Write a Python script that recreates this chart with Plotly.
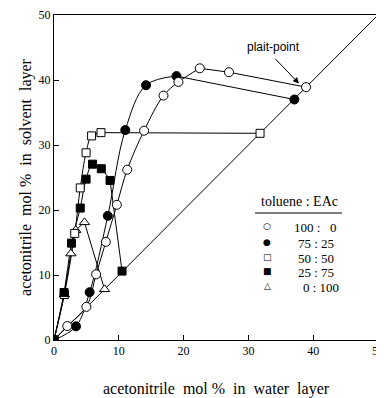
import plotly.graph_objects as go

# ---- data (acetonitrile mol %) ----
x_100_0 = [0, 2.05, 5.0, 6.5, 8.0, 9.7, 11.3, 13.9, 16.9, 19.2, 22.5, 27.0, 38.9]
y_100_0 = [0, 2.15, 5.1, 10.1, 15.1, 20.8, 26.2, 32.2, 37.6, 39.7, 41.8, 41.2, 38.9]

x_75_25 = [0, 3.4, 5.5, 8.3, 11.0, 14.2, 18.9, 37.1]
y_75_25 = [0, 2.1, 7.35, 19.1, 32.3, 39.2, 40.6, 37.0]

x_50_50 = [0, 1.6, 3.2, 4.05, 4.95, 5.8, 7.25, 31.8]
y_50_50 = [0, 7.0, 16.4, 23.4, 28.8, 31.4, 31.9, 31.8]

x_25_75 = [0, 1.55, 2.7, 4.05, 4.95, 5.95, 7.3, 8.65, 10.5]
y_25_75 = [0, 7.3, 14.9, 20.3, 24.75, 27.05, 26.35, 24.55, 10.6]

x_0_100 = [0, 1.6, 2.6, 3.35, 4.7, 7.8]
y_0_100 = [0, 7.0, 13.3, 16.9, 18.1, 7.8]

diag_x = [0, 50]
diag_y = [0, 50]

legend_title = "toluene : EAc"
legend_labels = ["100 :   0", "75 : 25", "50 : 50", "25 : 75", "0 : 100"]
legend_glyphs = ["○", "●", "□", "■", "△"]

x_title = "acetonitrile  mol %  in  water  layer"
y_title = "acetonitrile  mol %  in  solvent  layer"
tick_vals = [0, 10, 20, 30, 40, 50]
tick_text = ["0", "10", "20", "30", "40", "50"]

# series: (x, y, symbol, fill, size, index where linear tail starts, spline?)
series = {
    "100:0": (x_100_0, y_100_0, "circle", "white", 9, 10, True),
    "75:25": (x_75_25, y_75_25, "circle", "black", 9, 6, True),
    "50:50": (x_50_50, y_50_50, "square", "white", 8, 6, True),
    "25:75": (x_25_75, y_25_75, "square", "black", 8, 7, True),
    "0:100": (x_0_100, y_0_100, "triangle-up", "white", 9, 0, False),
}
marker_order = ["75:25", "100:0", "0:100", "50:50", "25:75"]

fig = go.Figure()

# diagonal
fig.add_trace(go.Scatter(x=diag_x, y=diag_y, mode="lines",
                         line=dict(color="black", width=1), hoverinfo="skip"))

# curve lines
for key, (xs, ys, sym, fill, sz, tail, spl) in series.items():
    if spl and tail > 0:
        fig.add_trace(go.Scatter(x=xs[:tail + 1], y=ys[:tail + 1], mode="lines",
                                 line=dict(color="black", width=1, shape="spline", smoothing=1)))
    fig.add_trace(go.Scatter(x=xs[tail:], y=ys[tail:], mode="lines",
                             line=dict(color="black", width=1)))

# markers on top
for key in marker_order:
    xs, ys, sym, fill, sz, tail, spl = series[key]
    fig.add_trace(go.Scatter(x=xs, y=ys, mode="markers", name=key,
                             marker=dict(symbol=sym, size=sz, color=fill,
                                         line=dict(color="black", width=1))))

serif = "Liberation Serif, Times New Roman, serif"
axis_common = dict(range=[0, 50], tickvals=tick_vals, ticktext=tick_text,
                   ticks="inside", ticklen=5, tickwidth=1, tickcolor="black",
                   showline=True, linecolor="black", linewidth=1, mirror=True,
                   showgrid=False, zeroline=False, automargin=False,
                   tickfont=dict(family=serif, size=12, color="black"))

# the page body has an 8px margin, so the figure starts at (8, 8) in the window
fig.update_layout(
    width=376, height=390,
    margin=dict(l=46, r=6, t=7, b=58),
    paper_bgcolor="white", plot_bgcolor="white",
    showlegend=False,
    xaxis=dict(**axis_common,
               title=dict(text=x_title, font=dict(family=serif, size=16, color="black"), standoff=27)),
    yaxis=dict(**axis_common,
               title=dict(text=y_title, font=dict(family=serif, size=16, color="black"), standoff=2)),
)

# window pixel -> paper helpers (plot area in window: x 54..378, y 15..340)
def px(xp):
    return (xp - 54) / 324.0

def py(yp):
    return (340 - yp) / 325.0

# plait-point label and arrow
fig.add_annotation(x=px(273), y=py(47), xref="paper", yref="paper", text="plait-point",
                   xanchor="center", yanchor="middle", showarrow=False,
                   font=dict(family="Liberation Sans, Arial, sans-serif", size=12, color="black"))
fig.add_annotation(x=px(299), y=py(83.5), xref="paper", yref="paper", text="",
                   showarrow=True, ax=-25, ay=-26, arrowhead=2, arrowsize=1.2, arrowwidth=1,
                   arrowcolor="black")

# custom legend
fig.add_annotation(x=px(299), y=py(201), xref="paper", yref="paper", text=legend_title,
                   xanchor="center", yanchor="middle", showarrow=False,
                   font=dict(family=serif, size=14, color="black"))
fig.add_shape(type="line", xref="paper", yref="paper", x0=px(255), x1=px(342), y0=py(213), y1=py(213),
              line=dict(color="black", width=1))
glyph_y = [225.5, 242, 256.5, 271, 285.5]
text_y = [227.5, 243.5, 258, 272.5, 287]
text_x = [293, 297, 297, 297, 302]
for g, lab, gy, ty, tx in zip(legend_glyphs, legend_labels, glyph_y, text_y, text_x):
    fig.add_annotation(x=px(267), y=py(gy), xref="paper", yref="paper", text=g, showarrow=False,
                       xanchor="center", yanchor="middle",
                       font=dict(family="DejaVu Sans", size=9, color="black"))
    fig.add_annotation(x=px(tx), y=py(ty), xref="paper", yref="paper", text=lab, showarrow=False,
                       xanchor="left", yanchor="middle", borderpad=0,
                       font=dict(family=serif, size=13, color="black"))

fig.write_html("out.html")
